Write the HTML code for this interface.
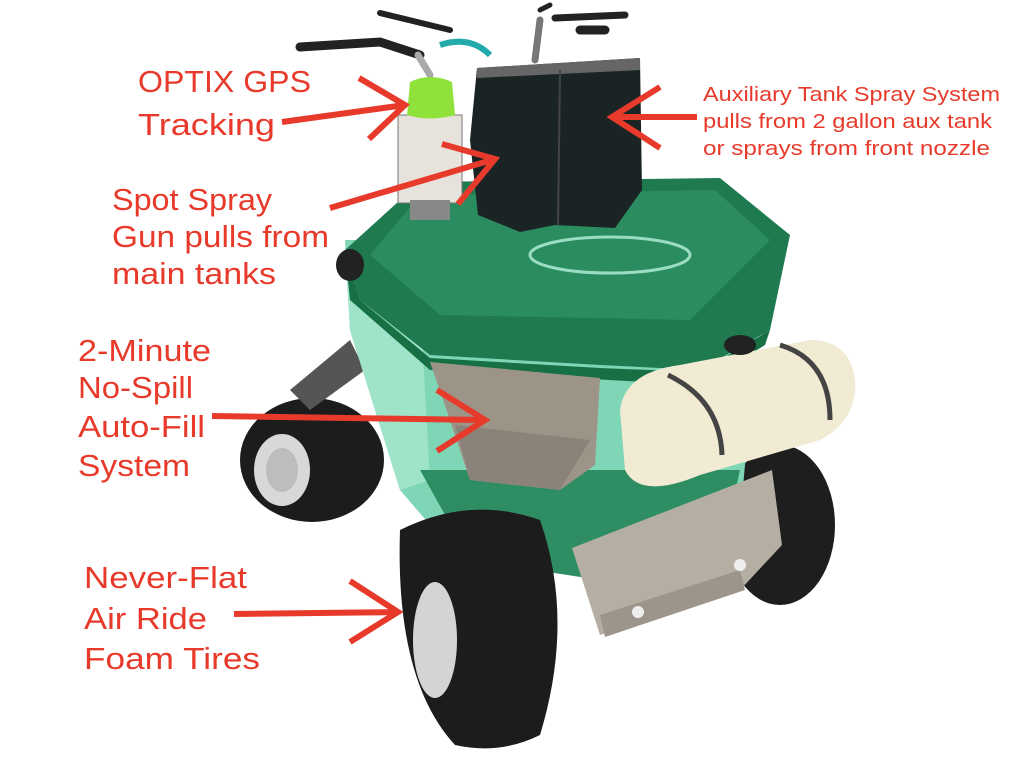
<!DOCTYPE html>
<html><head><meta charset="utf-8"><style>
html,body{margin:0;padding:0;background:#fff;width:1024px;height:768px;overflow:hidden}
svg{display:block}
</style></head><body>
<svg width="1024" height="768" viewBox="0 0 1024 768" xmlns="http://www.w3.org/2000/svg">
<!-- handlebars -->
<g stroke="#222" stroke-linecap="round" fill="none">
<path d="M300 47 L380 42 L420 55" stroke-width="9"/>
<path d="M380 13 L450 30" stroke-width="6"/>
<path d="M540 10 L550 5" stroke-width="5"/>
<path d="M555 18 L625 15" stroke-width="7"/>
<path d="M580 30 L605 30" stroke-width="9"/>
<path d="M418 55 L430 75" stroke="#aaa" stroke-width="7"/>
<path d="M540 20 L535 60" stroke="#777" stroke-width="7"/>
</g>
<path d="M440 45 Q470 35 490 55" stroke="#2aa" stroke-width="6" fill="none"/>
<!-- rear left tire -->
<ellipse cx="312" cy="460" rx="72" ry="62" fill="#1c1c1c"/>
<ellipse cx="282" cy="470" rx="28" ry="36" fill="#d8d8d8"/>
<ellipse cx="282" cy="470" rx="16" ry="22" fill="#bdbdbd"/>
<!-- rear strut -->
<polygon points="290,390 350,340 365,370 310,410" fill="#555"/>
<!-- rear right tire -->
<ellipse cx="780" cy="525" rx="55" ry="80" fill="#1e1e1e"/>
<!-- main tank -->
<polygon points="345,240 700,240 760,300 740,520 600,570 460,560 400,490 350,330" fill="#7fd6b6"/>
<polygon points="345,250 420,300 430,480 400,490 350,330" fill="#9fe3c8"/>
<polygon points="420,470 740,470 720,560 600,580 470,560" fill="#2f8d64"/>
<!-- cover -->
<polygon points="345,250 420,182 720,178 790,235 770,330 700,370 600,365 430,355 360,300" fill="#1f7a50"/>
<polygon points="420,195 715,190 770,240 690,320 440,315 370,255" fill="#2b8c60"/>
<polygon points="345,250 360,300 430,358 600,368 700,372 770,330 765,345 700,385 430,370 350,300" fill="#167044"/>
<ellipse cx="610" cy="255" rx="80" ry="18" fill="none" stroke="#cfe" stroke-width="3" opacity=".7"/>
<ellipse cx="350" cy="265" rx="14" ry="16" fill="#222"/>
<!-- autofill metal plate -->
<polygon points="430,362 600,378 595,465 560,490 470,480 450,420" fill="#9d9488"/>
<polygon points="455,425 590,440 560,490 470,480" fill="#8b8379"/>
<!-- GPS unit and bag -->
<rect x="398" y="115" width="64" height="88" fill="#e8e2dc" stroke="#777"/>
<rect x="410" y="200" width="40" height="20" fill="#888"/>
<path d="M410 82 Q430 72 452 82 L455 115 Q430 122 407 115 Z" fill="#8fe23a"/>
<polygon points="477,68 640,58 642,190 615,228 555,225 520,232 478,215 470,140" fill="#1a2424"/>
<polygon points="477,68 640,58 640,70 477,78" fill="#666"/>
<path d="M560 70 L558 225" stroke="#444" stroke-width="2"/>
<!-- front left tire -->
<path d="M400 530 Q470 495 540 520 Q575 620 540 735 Q500 755 455 745 Q395 680 400 530 Z" fill="#1c1c1c"/>
<ellipse cx="435" cy="640" rx="22" ry="58" fill="#d4d4d4"/>
<!-- aux tank -->
<path d="M620 410 Q625 372 680 365 L810 340 Q850 340 855 380 Q858 420 820 440 L700 475 Q640 500 625 470 Z" fill="#f1ebd4"/>
<ellipse cx="740" cy="345" rx="16" ry="10" fill="#222"/>
<path d="M668 375 Q720 400 722 455" stroke="#444" stroke-width="5" fill="none"/>
<path d="M780 345 Q830 360 830 420" stroke="#444" stroke-width="5" fill="none"/>
<!-- front plate -->
<polygon points="572,548 772,470 782,545 740,590 600,635" fill="#b5aea3"/>
<polygon points="600,615 740,570 745,590 605,637" fill="#9b958c"/>
<circle cx="638" cy="612" r="6" fill="#eee"/><circle cx="740" cy="565" r="6" fill="#eee"/>
<!-- arrows -->
<g stroke="#e83a2b" stroke-width="6" stroke-linecap="butt" fill="none">
<path d="M282 122 L405 105 M359 78 L405 105 L369 139"/>
<path d="M330 208 L495 159 M442 144 L495 159 L458 204"/>
<path d="M212 416 L485 420 M437 390 L485 420 L437 451"/>
<path d="M234 614 L398 612 M350 581 L398 612 L350 642"/>
<path d="M697 117 L612 117 M660 87 L612 117 L660 148"/>
</g>
<!-- text -->
<g fill="#e83a2b" font-family="Liberation Sans, sans-serif" font-size="31">
<text x="138" y="92" textLength="173" lengthAdjust="spacingAndGlyphs">OPTIX GPS</text>
<text x="138" y="135" textLength="137" lengthAdjust="spacingAndGlyphs">Tracking</text>
<text x="112" y="210" textLength="160" lengthAdjust="spacingAndGlyphs">Spot Spray</text>
<text x="112" y="247" textLength="217" lengthAdjust="spacingAndGlyphs">Gun pulls from</text>
<text x="112" y="284" textLength="164" lengthAdjust="spacingAndGlyphs">main tanks</text>
<text x="78" y="361" textLength="133" lengthAdjust="spacingAndGlyphs">2-Minute</text>
<text x="78" y="398" textLength="115" lengthAdjust="spacingAndGlyphs">No-Spill</text>
<text x="78" y="437" textLength="127" lengthAdjust="spacingAndGlyphs">Auto-Fill</text>
<text x="78" y="476" textLength="112" lengthAdjust="spacingAndGlyphs">System</text>
<text x="84" y="588" textLength="163" lengthAdjust="spacingAndGlyphs">Never-Flat</text>
<text x="84" y="629" textLength="123" lengthAdjust="spacingAndGlyphs">Air Ride</text>
<text x="84" y="669" textLength="176" lengthAdjust="spacingAndGlyphs">Foam Tires</text>
</g>
<g fill="#e83a2b" font-family="Liberation Sans, sans-serif" font-size="20">
<text x="703" y="101" textLength="297" lengthAdjust="spacingAndGlyphs">Auxiliary Tank Spray System</text>
<text x="703" y="128" textLength="289" lengthAdjust="spacingAndGlyphs">pulls from 2 gallon aux tank</text>
<text x="703" y="155" textLength="287" lengthAdjust="spacingAndGlyphs">or sprays from front nozzle</text>
</g>
</svg>
</body></html>
